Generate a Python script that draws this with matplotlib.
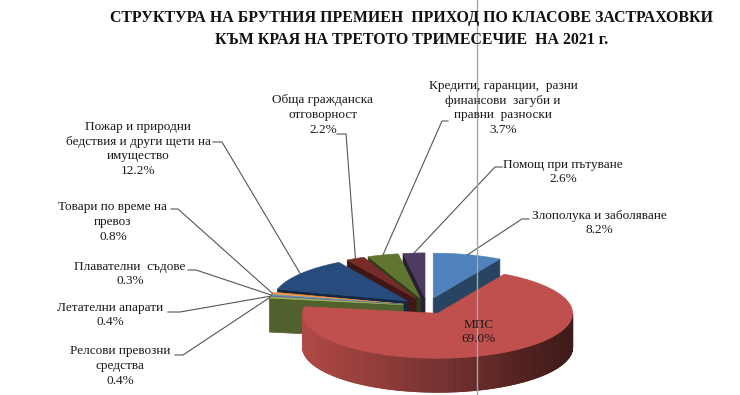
import numpy as np
import matplotlib
matplotlib.use("Agg")
import matplotlib.pyplot as plt
from matplotlib.patches import Polygon
from matplotlib.collections import PolyCollection
from matplotlib.colors import to_rgb

# data
labels = ["Злополука и заболяване", "МПС", "Релсови превозни\nсредства",
          "Летателни апарати", "Плавателни  съдове", "Товари по време на\nпревоз",
          "Пожар и природни\nбедствия и други щети на\nимущество",
          "Обща гражданска\nотговорност",
          "Кредити, гаранции,  разни\nфинансови  загуби и\nправни  разноски",
          "Помощ при пътуване"]
values = [8.2, 69.0, 0.4, 0.4, 0.3, 0.8, 12.2, 2.2, 3.7, 2.6]
colors = ["#4f81bd", "#c0504d", "#9bbb59", "#8064a2", "#4bacc6", "#f79646",
          "#264b7c", "#772c2a", "#5f7530", "#4d3b62"]

# label layout (pixel coords): text centre, leader point, tick end x
text_pos = [(599, 223), (479, 332), (120, 366), (110, 315), (130, 274), (113, 222),
            (138, 149), (323, 115), (503, 108), (563, 172)]
leader_pt = [(522, 219), None, (183, 355), (180, 312), (196, 270), (178, 209),
             (222, 142), (346, 134), (442, 121), (495, 167)]
tick_to = [529, None, 175, 168, 188, 171, 213, 337, 448, 502]

# pie geometry
cx, cy = 427, 306
rx, ry = 135, 45
depth = 34
explode = 0.18

fig = plt.figure(figsize=(7.4, 3.95), dpi=100)
ax = fig.add_axes([0, 0, 1, 1])
ax.set_xlim(0, 740)
ax.set_ylim(395, 0)
ax.axis("off")

font = "Liberation Serif"


def shade(c, f):
    r, g, b = to_rgb(c)
    return (r * f, g * f, b * f)


def pt(x0, y0, ang, r=1.0):
    a = np.radians(ang)
    return x0 + rx * r * np.cos(a), y0 - ry * r * np.sin(a)


total = sum(values)
slices = []
start = 90.0
for i, v in enumerate(values):
    span = v / total * 360
    a, b = start - span, start
    start -= span
    mid = (a + b) / 2
    ox = cx + explode * rx * np.cos(np.radians(mid))
    oy = cy - explode * ry * np.sin(np.radians(mid))
    slices.append((i, a, b, mid, ox, oy))

order = sorted(slices, key=lambda s: -np.sin(np.radians(s[3])))

for i, a, b, mid, ox, oy in order:
    col = colors[i]
    # radial faces
    for ang, vis in ((a, np.cos(np.radians(a)) > 0), (b, np.cos(np.radians(b)) < 0)):
        if vis:
            ex, ey = pt(ox, oy, ang)
            face = [(ox, oy), (ex, ey), (ex, ey + depth), (ox, oy + depth)]
            ax.add_patch(Polygon(face, closed=True, fc=shade(col, 0.52),
                                 ec=shade(col, 0.52), lw=0.5))
    # outer wall, front half only
    angs = np.linspace(a, b, max(int((b - a) * 2), 2))
    quads, qcols = [], []
    for t0, t1 in zip(angs[:-1], angs[1:]):
        tm = np.radians((t0 + t1) / 2)
        if np.sin(tm) < 0:
            x0, y0 = pt(ox, oy, t0)
            x1, y1 = pt(ox, oy, t1)
            quads.append([(x0, y0), (x1, y1), (x1, y1 + depth), (x0, y0 + depth)])
            qcols.append(shade(col, 0.62 - 0.3 * np.cos(tm)))
    if quads:
        ax.add_collection(PolyCollection(quads, facecolors=qcols, edgecolors=qcols, lw=0.6))
    # top face
    arc = [pt(ox, oy, t) for t in np.linspace(a, b, max(int((b - a) * 2), 2))]
    ax.add_patch(Polygon([(ox, oy)] + arc, closed=True, fc=col, ec=col, lw=0.4))

# labels and leaders
for i, a, b, mid, ox, oy in slices:
    txt = labels[i] + "\n" + f"{values[i]:.1f}%"
    tx, ty = text_pos[i]
    ax.text(tx, ty, txt, ha="center", va="center", fontsize=9.5, family=font,
            color="#1a1a1a", linespacing=1.3)
    if leader_pt[i] is not None:
        lx, ly = leader_pt[i]
        axx, ayy = pt(ox, oy, mid)
        ax.plot([tick_to[i], lx, axx], [ly, ly, ayy], color="#555555", lw=0.8)

ax.text(412, 29, "СТРУКТУРА НА БРУТНИЯ ПРЕМИЕН  ПРИХОД ПО КЛАСОВЕ ЗАСТРАХОВКИ\n"
        "КЪМ КРАЯ НА ТРЕТОТО ТРИМЕСЕЧИЕ  НА 2021 г.",
        ha="center", va="center", fontsize=11.4, family=font, weight="bold",
        color="#111111", linespacing=1.55)

ax.plot([477, 477], [0, 395], color="#a6a6a6", lw=1)

fig.savefig("out.png", dpi=100)
